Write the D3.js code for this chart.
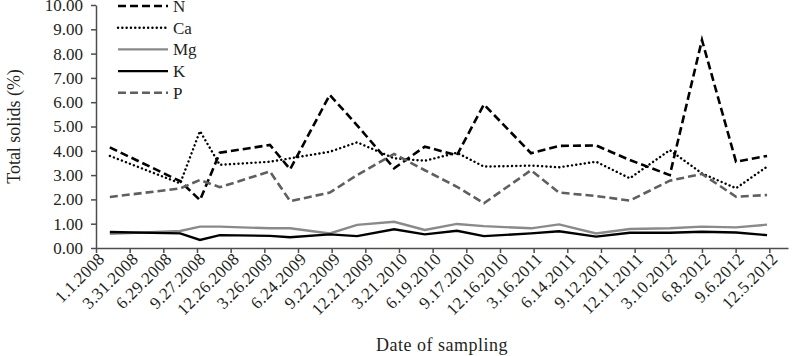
<!DOCTYPE html>
<html lang="en">
<head>
  <meta charset="UTF-8" />
  <title>Total solids by date of sampling</title>
  <script src="https://d3js.org/d3.v7.min.js"></script>
  <style>
    body {
      margin: 0;
      background: #fff;
    }
    svg text {
      font-family: "Liberation Serif", "DejaVu Serif", serif;
      fill: #231f20;
    }
  </style>
</head>
<body>
  <svg id="chart" width="793" height="356"></svg>

  <script>
    // tick labels on the date axis (every 90 days)
    const tickLabels = [
      "1.1.2008", "3.31.2008", "6.29.2008", "9.27.2008", "12.26.2008",
      "3.26.2009", "6.24.2009", "9.22.2009", "12.21.2009", "3.21.2010",
      "6.19.2010", "9.17.2010", "12.16.2010", "3.16.2011", "6.14.2011",
      "9.12.2011", "12.11.2011", "3.10.2012", "6.8.2012", "9.6.2012", "12.5.2012"
    ];
    const yTicks = [0, 1, 2, 3, 4, 5, 6, 7, 8, 9, 10];

    // sampling dates
    const sampleDates = [
      "2008-02-07", "2008-08-13", "2008-10-05", "2008-11-27", "2009-04-10",
      "2009-06-03", "2009-09-17", "2009-11-29", "2010-03-08", "2010-05-29",
      "2010-08-23", "2010-11-03", "2011-03-09", "2011-05-23", "2011-08-30",
      "2011-11-28", "2012-03-14", "2012-06-08", "2012-09-07", "2012-11-29"
    ];

    const valuesN  = [4.14, 2.75, 1.97, 3.92, 4.24, 3.24, 6.30, 5.05, 3.28, 4.17,
                      3.82, 5.91, 3.90, 4.20, 4.22, 3.62, 3.00, 8.56, 3.55, 3.79];
    const valuesCa = [3.79, 2.66, 4.81, 3.42, 3.55, 3.69, 3.96, 4.35, 3.69, 3.59,
                      3.92, 3.35, 3.39, 3.32, 3.55, 2.87, 4.03, 3.07, 2.46, 3.35];
    const valuesMg = [0.58, 0.70, 0.88, 0.88, 0.81, 0.81, 0.60, 0.95, 1.08, 0.74,
                      0.99, 0.90, 0.81, 0.97, 0.60, 0.78, 0.81, 0.88, 0.85, 0.96];
    const valuesK  = [0.66, 0.60, 0.33, 0.53, 0.50, 0.44, 0.56, 0.49, 0.77, 0.56,
                      0.71, 0.49, 0.60, 0.69, 0.47, 0.63, 0.63, 0.67, 0.64, 0.53];
    const valuesP  = [2.10, 2.45, 2.80, 2.50, 3.15, 1.93, 2.28, 3.00, 3.87, 3.20,
                      2.52, 1.84, 3.20, 2.28, 2.14, 1.95, 2.77, 3.05, 2.11, 2.18];

    const seriesNames = ["N", "Ca", "Mg", "K", "P"];
    const seriesValues = [valuesN, valuesCa, valuesMg, valuesK, valuesP];

    const styles = {
      N:  { stroke: "#000", width: 2.6, dash: "8,4", cap: "butt" },
      Ca: { stroke: "#000", width: 2.4, dash: "0.1,4.2", cap: "round" },
      Mg: { stroke: "#8a8a8a", width: 2.4, dash: null, cap: "butt" },
      K:  { stroke: "#000", width: 2.4, dash: null, cap: "butt" },
      P:  { stroke: "#5f5f5f", width: 2.6, dash: "8,4", cap: "butt" }
    };

    const parseTick = d3.utcParse("%m.%d.%Y");
    const parseDate = d3.utcParse("%Y-%m-%d");
    const tickDates = tickLabels.map(parseTick);
    const dates = sampleDates.map(parseDate);

    const svg = d3.select("#chart");
    const plotLeft = 96, plotRight = 788, plotTop = 5, plotBottom = 248;
    const axisColor = "#4d4d4d";

    const x = d3.scaleUtc()
      .domain([parseDate("2008-01-01"), parseDate("2013-01-24")])
      .range([plotLeft, plotRight]);
    const y = d3.scaleLinear().domain([0, 10]).range([plotBottom, plotTop]);

    // y axis
    const yAxis = svg.append("g")
      .attr("transform", `translate(${plotLeft},0)`)
      .call(d3.axisLeft(y).tickValues(yTicks).tickFormat(d3.format(".2f")).tickSize(5).tickSizeOuter(0));
    yAxis.select(".domain").attr("stroke", axisColor).attr("stroke-width", 1.5);
    yAxis.selectAll(".tick line").attr("stroke", axisColor).attr("stroke-width", 1.5);
    yAxis.selectAll(".tick text")
      .attr("x", -13)
      .attr("font-size", "17px")
      .attr("font-family", "Liberation Serif, serif")
      .attr("fill", "#231f20");

    // x axis
    const xAxis = svg.append("g")
      .attr("transform", `translate(0,${plotBottom})`)
      .call(d3.axisBottom(x).tickValues(tickDates).tickFormat((d, i) => tickLabels[i]).tickSize(5).tickSizeOuter(0));
    xAxis.select(".domain").attr("stroke", axisColor).attr("stroke-width", 1.5);
    xAxis.selectAll(".tick line").attr("stroke", axisColor).attr("stroke-width", 1.5);
    xAxis.selectAll(".tick text")
      .attr("font-size", "17px")
      .attr("letter-spacing", "0.3px")
      .attr("font-family", "Liberation Serif, serif")
      .attr("fill", "#231f20")
      .attr("text-anchor", "end")
      .attr("dy", 0)
      .attr("transform", "translate(9,12) rotate(-45)")
      .attr("x", 0)
      .attr("y", 0);

    // series lines
    const line = d3.line()
      .x((d, i) => x(dates[i]))
      .y(d => y(d));

    seriesNames.forEach((name, k) => {
      const s = styles[name];
      svg.append("path")
        .datum(seriesValues[k])
        .attr("fill", "none")
        .attr("stroke", s.stroke)
        .attr("stroke-width", s.width)
        .attr("stroke-dasharray", s.dash)
        .attr("stroke-linecap", s.cap)
        .attr("stroke-linejoin", "miter")
        .attr("d", line);
    });

    // legend
    const legend = svg.append("g");
    seriesNames.forEach((name, k) => {
      const s = styles[name];
      const ly = 6 + k * 21.7;
      legend.append("line")
        .attr("x1", 118).attr("x2", 168)
        .attr("y1", ly).attr("y2", ly)
        .attr("stroke", s.stroke)
        .attr("stroke-width", s.width)
        .attr("stroke-dasharray", s.dash)
        .attr("stroke-linecap", s.cap);
      legend.append("text")
        .attr("x", 173).attr("y", ly)
        .attr("dy", "0.35em")
        .attr("font-size", "17px")
        .text(name);
    });

    // axis titles
    svg.append("text")
      .attr("transform", `translate(20,${(plotTop + plotBottom) / 2}) rotate(-90)`)
      .attr("text-anchor", "middle")
      .attr("font-size", "18px")
      .text("Total solids (%)");

    svg.append("text")
      .attr("x", 442).attr("y", 351)
      .attr("text-anchor", "middle")
      .attr("font-size", "18px")
      .attr("letter-spacing", "0.5px")
      .text("Date of sampling");
  </script>
</body>
</html>
